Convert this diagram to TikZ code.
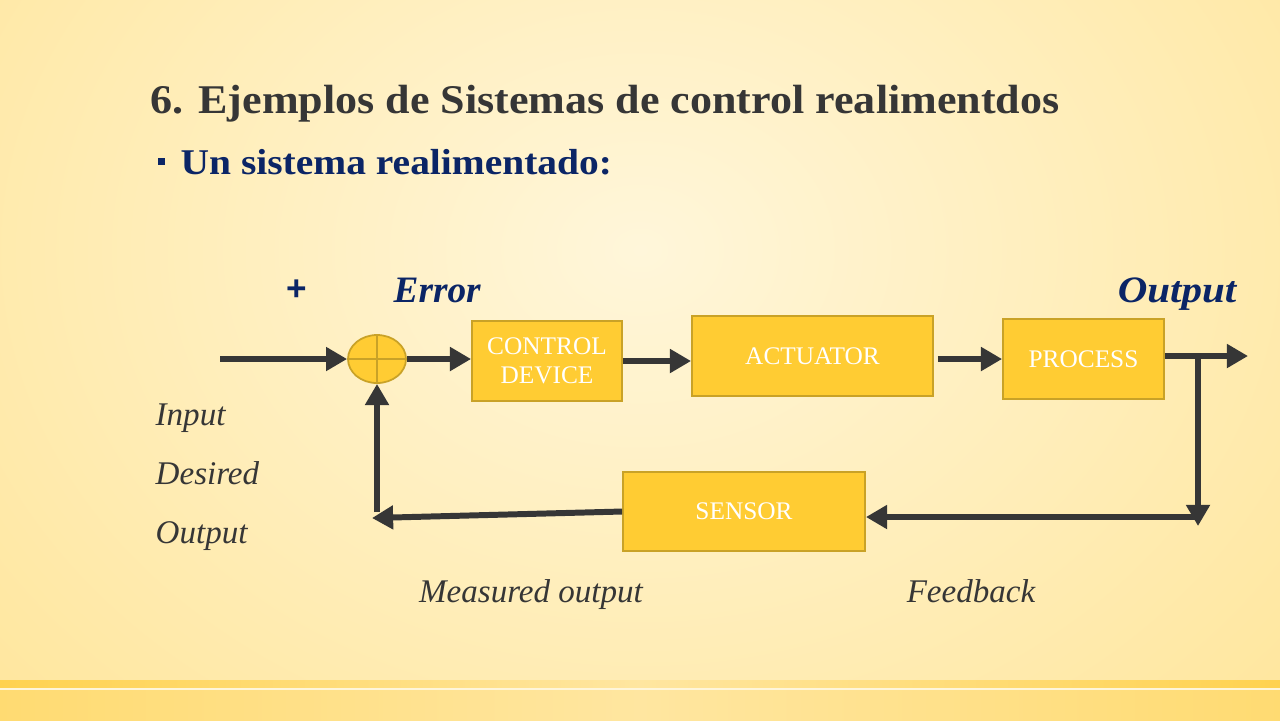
\documentclass[tikz,border=0pt]{standalone}
\usepackage{fontspec}
\setmainfont{Liberation Serif}
\setsansfont{Liberation Sans}
\usetikzlibrary{arrows.meta,shapes.geometric}
\definecolor{slidenavy}{HTML}{0B2566}
\definecolor{slidegray}{HTML}{363636}
\definecolor{boxgold}{HTML}{FFCC33}
\definecolor{boxedge}{HTML}{C9A227}
\definecolor{cream}{HTML}{FFF6DA}
\definecolor{creamedge}{HTML}{FFE69C}
\definecolor{bandgold}{HTML}{FFD24F}
\definecolor{bandlight}{HTML}{FFE6A0}
\definecolor{bandlow}{HTML}{FFDB72}
\begin{document}
\begin{tikzpicture}[x=0.01cm,y=-0.01cm]
        \tikzstyle{block}=[rectangle,draw=boxedge,fill=boxgold,text=white,line width=0.5pt,inner sep=0pt,align=center,font=\fontsize{7.2}{8.3}\selectfont]
        \tikzstyle{summer}=[ellipse,draw=boxedge,fill=boxgold,line width=0.5pt,minimum width=0.58cm,minimum height=0.48cm,inner sep=0pt]
        \tikzstyle{flow}=[draw=slidegray,line width=1.7pt,-{Triangle[length=6pt,width=6.5pt]}]
        \tikzstyle{lbl}=[text=slidegray,inner sep=0pt,font=\fontsize{9.4}{11}\selectfont\itshape]
        \tikzstyle{sig}=[text=slidenavy,inner sep=0pt,font=\fontsize{10.6}{12}\selectfont\bfseries\itshape]
        % background
        \begin{scope}
          \clip (0,0) rectangle (1280,720);
          \fill[inner color=cream,outer color=creamedge] (-250,-450) rectangle (1530,950);
        \end{scope}
        \fill[left color=bandgold,right color=bandgold,middle color=bandlight] (0,680) rectangle (1280,688);
        \fill[color=cream] (0,688) rectangle (1280,690);
        \fill[left color=bandlow,right color=bandlow,middle color=bandlight] (0,690) rectangle (1280,720);
        % heading
        \node [anchor=base west,inner sep=0pt,text=slidegray,font=\fontsize{11.6}{13}\selectfont\bfseries] (title) at (150,113) {\scalebox{1.08}[1]{6. Ejemplos de Sistemas de control realimentdos}};
        \fill[slidenavy] (158,158) rectangle (165,165);
        \node [anchor=base west,inner sep=0pt,text=slidenavy,font=\fontsize{10.3}{12}\selectfont\bfseries] (sub) at (180,174) {\scalebox{1.09}[1]{Un sistema realimentado:}};
       \begin{scope}
         \node [summer] (sum) at (377,359) {};
         \node [block,minimum width=1.50cm,minimum height=0.80cm] (ctrl) at (547,361) {CONTROL\\DEVICE};
         \node [block,minimum width=2.41cm,minimum height=0.80cm] (act) at (812.5,356) {ACTUATOR};
         \node [block,minimum width=1.61cm,minimum height=0.80cm] (proc) at (1083.5,359) {PROCESS};
         \node [block,minimum width=2.42cm,minimum height=0.79cm] (sens) at (744,511.5) {SENSOR};
         \coordinate (in) at (220,359);
         \coordinate (out) at (1248,356);
         \coordinate (tap) at (1198,356);
         \coordinate (drop) at (1198,526);
         \coordinate (corner) at (1198,517);
         \coordinate (meas) at (372,518);
         \coordinate (rise) at (377,512);
         \draw[line width=0.5pt,boxedge] (sum.north) -- (sum.south);
         \draw[line width=0.5pt,boxedge] (sum.west) -- (sum.east);
         \draw[flow] (in) -- (sum.west);
         \draw[flow] (sum.east) -- (sum.east -| ctrl.west);
         \draw[flow] (ctrl.east) -- (ctrl.east -| act.west);
         \draw[flow,shorten <=1.1pt] (act.east |- proc.west) -- (proc.west);
         \draw[flow] (proc.east |- out) -- (out);
         \draw[flow] (tap) -- (drop);
         \draw[flow] (corner) -- (corner -| sens.east);
         \draw[flow] (sens.west) -- (meas);
         \draw[flow] (rise) -- (sum.south);
        \end{scope}
         % labels
         \node [text=slidenavy,inner sep=0pt,font=\fontsize{10}{12}\selectfont\sffamily\bfseries] (plus) at (297,290) {+};
         \node [sig,anchor=base west] (err) at (393,302) {Error};
         \node [sig,anchor=base east] (outlbl) at (1237,302) {\scalebox{1.1}[1]{Output}};
         \node [lbl,anchor=base west] (inp) at (155,425) {Input};
         \node [lbl,anchor=base west] (des) at (155,484) {Desired};
         \node [lbl,anchor=base west] (outp) at (155,543) {Output};
         \node [lbl,anchor=base] (mlbl) at (531,602) {Measured output};
         \node [lbl,anchor=base] (fb) at (971,602) {Feedback};
      \end{tikzpicture}
\end{document}
